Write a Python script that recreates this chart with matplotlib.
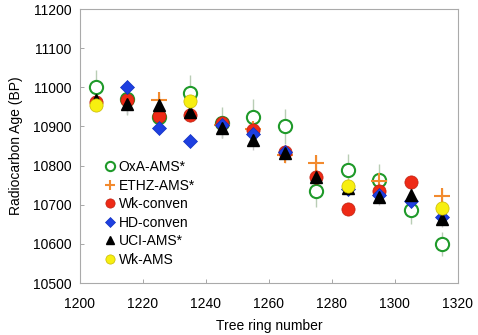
import matplotlib
matplotlib.use("Agg")
import matplotlib.pyplot as plt
import numpy as np

plt.rcParams['font.family'] = ['Liberation Sans', 'DejaVu Sans']

# ---- data ----
oxa_x = [1205, 1215, 1225, 1235, 1245, 1255, 1265, 1275, 1285, 1295, 1305, 1315]
oxa_y = [11000, 10970, 10925, 10986, 10910, 10925, 10900, 10735, 10789, 10764, 10686, 10600]
oxa_err = [45, 40, 40, 45, 40, 45, 45, 40, 40, 40, 35, 30]

ethz_x = [1225, 1245, 1255, 1265, 1275, 1295, 1315]
ethz_y = [10967, 10905, 10893, 10828, 10806, 10760, 10723]
ethz_err = [20, 20, 20, 20, 20, 20, 20]

wkc_x = [1205, 1215, 1225, 1235, 1245, 1255, 1265, 1275, 1285, 1295, 1305]
wkc_y = [10962, 10967, 10928, 10930, 10910, 10890, 10834, 10772, 10690, 10736, 10759]

hd_x = [1215, 1225, 1235, 1245, 1255, 1265, 1285, 1295, 1305, 1315]
hd_y = [11000, 10896, 10864, 10903, 10882, 10834, 10740, 10725, 10710, 10668]

uci_x = [1205, 1215, 1225, 1235, 1245, 1255, 1265, 1275, 1285, 1295, 1305, 1315]
uci_y = [10968, 10958, 10954, 10937, 10896, 10866, 10832, 10770, 10743, 10720, 10725, 10663]
uci_err = [25, 25, 25, 25, 25, 25, 20, 20, 20, 20, 20, 20]

wka_x = [1205, 1235, 1285, 1315]
wka_y = [10955, 10965, 10748, 10692]

x_ticks = [1200, 1220, 1240, 1260, 1280, 1300, 1320]
y_ticks = [10500, 10600, 10700, 10800, 10900, 11000, 11100, 11200]

fig = plt.figure(figsize=(4.78, 3.35), dpi=100)
ax = fig.add_axes([0.167, 0.155, 0.791, 0.818])

# error bars
ax.errorbar(oxa_x, oxa_y, yerr=oxa_err, fmt='none', ecolor='#b9cdb5', elinewidth=1.0, zorder=1)
ax.errorbar(uci_x, uci_y, yerr=uci_err, fmt='none', ecolor='#c8c8c8', elinewidth=1.0, zorder=1)
ax.errorbar(ethz_x, ethz_y, yerr=ethz_err, fmt='none', ecolor='#f2c7a0', elinewidth=1.0, zorder=1)

ax.plot(oxa_x, oxa_y, 'o', ms=9.5, mfc='white', mec='#1f9a2a', mew=1.5, ls='none', label='OxA-AMS*', zorder=2)
ax.plot(ethz_x, ethz_y, '+', ms=11, mec='#f28a2e', mew=1.5, ls='none', label='ETHZ-AMS*', zorder=3)
ax.plot(wkc_x, wkc_y, 'o', ms=9.5, mfc='#ee2a16', mec='#c0200f', mew=0.5, ls='none', label='Wk-conven', zorder=4)
ax.plot(hd_x, hd_y, 'D', ms=7, mfc='#1e3fe0', mec='#1030c0', mew=0.5, ls='none', label='HD-conven', zorder=5)
ax.plot(uci_x, uci_y, '^', ms=9, mfc='black', mec='black', ls='none', label='UCI-AMS*', zorder=6)
ax.plot(wka_x, wka_y, 'o', ms=9.5, mfc='#f7ef10', mec='#c8b800', mew=0.5, ls='none', label='Wk-AMS', zorder=7)

ax.set_xlim(1200, 1320)
ax.set_ylim(10500, 11200)
ax.set_xticks(x_ticks)
ax.set_yticks(y_ticks)
ax.tick_params(direction='in', length=3, width=0.6, color='#999999', labelsize=10)
ax.tick_params(axis='x', pad=10)
ax.tick_params(axis='y', pad=6)
for s in ax.spines.values():
    s.set_color('#aaaaaa')
    s.set_linewidth(0.8)

ax.set_xlabel('Tree ring number', fontsize=10, labelpad=6)
ax.set_ylabel('Radiocarbon Age (BP)', fontsize=10, labelpad=7)

leg = ax.legend(loc='lower left', bbox_to_anchor=(0.04, 0.03), frameon=False, fontsize=10,
                handletextpad=0.1, handlelength=1.0, labelspacing=0.32, borderaxespad=0.2,
                markerscale=0.7)

fig.savefig('out.png', dpi=100)
